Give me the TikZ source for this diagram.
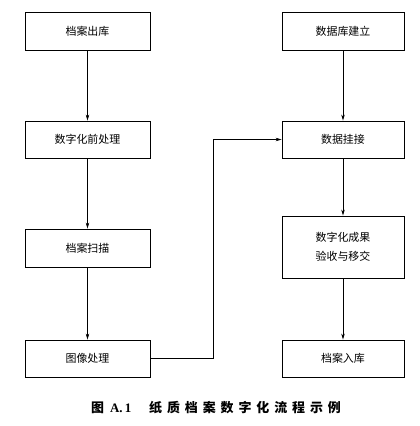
\documentclass[tikz,border=0pt]{standalone}
\usepackage{fontspec}
\setmainfont{Noto Sans CJK SC}
\newfontfamily\latinserif{Liberation Serif}
\usetikzlibrary{arrows.meta}
\begin{document}
\begin{tikzpicture}[x=1bp,y=-1bp,
  box/.style={draw,line width=0.9pt,minimum height=38bp,inner sep=0pt,
    font=\fontsize{11}{19}\selectfont,align=center},
  lbox/.style={box,minimum width=125bp},
  rbox/.style={box,minimum width=122bp},
  conn/.style={line width=0.6pt,-{Stealth[length=6bp,width=3.5bp]}}]
\useasboundingbox (0,0) rectangle (420,426);
\node[lbox] (a1) at (87.5,31) {档案出库};
\node[lbox,minimum height=37bp] (a2) at (87.5,139.5) {数字化前处理};
\node[lbox] (a3) at (87.5,248) {档案扫描};
\node[lbox,minimum height=37bp] (a4) at (87.5,358.5) {图像处理};
\node[rbox] (r1) at (343,31) {数据库建立};
\node[rbox,minimum height=37bp] (r2) at (343,139.5) {数据挂接};
\node[rbox,minimum height=62bp] (r3) at (343,247) {数字化成果\\验收与移交};
\node[rbox,minimum height=37bp] (r4) at (343,358.5) {档案入库};
\coordinate (bend) at (213,358.5);
\draw[conn] (a1) -- (a2);
\draw[conn] (a2) -- (a3);
\draw[conn] (a3) -- (a4);
\draw[conn] (r1) -- (r2);
\draw[conn] (r2) -- (r3);
\draw[conn] (r3) -- (r4);
\draw[conn] (a4.east) -- (bend) |- (r2.west);
\node[font=\fontsize{13}{15}\selectfont\bfseries] (cap) at (216,408)
  {图\hspace{6bp}{\latinserif\bfseries A.\,1}\hspace{18bp}\addfontfeatures{LetterSpace=38}纸质档案数字化流程示例};
\end{tikzpicture}
\end{document}
